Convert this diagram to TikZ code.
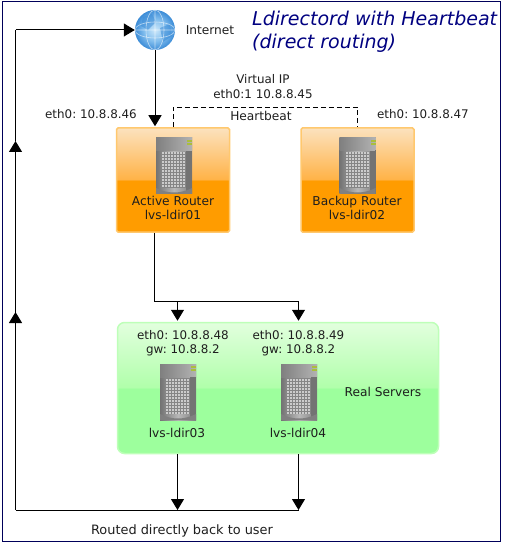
\documentclass[tikz,border=0pt]{standalone}
\usepackage{fontspec}
\setmainfont{DejaVu Sans}
\usepackage{xcolor}
\usetikzlibrary{arrows.meta,positioning}
\definecolor{framenavy}{RGB}{0,0,90}
\definecolor{titlenavy}{RGB}{0,0,128}
\definecolor{routerfill}{RGB}{255,156,0}
\definecolor{routermid}{RGB}{255,178,70}
\definecolor{routertop}{RGB}{252,226,190}
\definecolor{routeredge}{RGB}{255,200,110}
\definecolor{realfill}{RGB}{157,255,157}
\definecolor{realmid}{RGB}{176,255,170}
\definecolor{realtop}{RGB}{226,255,222}
\definecolor{realedge}{RGB}{190,255,185}
\definecolor{labelgray}{RGB}{30,30,30}
\definecolor{globelight}{RGB}{205,232,250}
\definecolor{globemid}{RGB}{130,190,238}
\definecolor{globedark}{RGB}{60,140,215}
\definecolor{srvled}{RGB}{170,190,60}
\pgfdeclareverticalshading{routershade}{100bp}{
  color(0bp)=(routerfill); color(50bp)=(routerfill);
  color(50.01bp)=(routermid); color(75bp)=(routertop); color(100bp)=(routertop)}
\pgfdeclareverticalshading{realshade}{100bp}{
  color(0bp)=(realfill); color(50bp)=(realfill);
  color(50.01bp)=(realmid); color(75bp)=(realtop); color(100bp)=(realtop)}
\pgfdeclareradialshading{globeshade}{\pgfpoint{0bp}{0bp}}{
  color(0bp)=(globelight); color(14bp)=(globemid);
  color(25bp)=(globedark); color(50bp)=(globedark)}
\tikzset{
  pics/srvicon/.style={code={
    \fill[left color=black!55, right color=black!50, middle color=black!28] (-18,-28) rectangle (18,28);
    \fill[left color=black!50, right color=black!30] (-18,-28) rectangle (18,-15);
    \fill[black!55] (12,-15) rectangle (18,28);
    \fill[black!50] (-18,22) .. controls (-6,28) and (6,28) .. (18,22) -- (18,28) -- (-18,28) -- cycle;
    \fill[srvled] (13,-26) rectangle (18,-24);
    \fill[srvled] (13,-23) rectangle (18,-21);
    \fill[black!48] (-12.5,-14) rectangle (11.5,22);
    \foreach \i in {0,...,7}
      \foreach \j in {0,...,11}
        \fill[black!20] (-12+\i*3,-13.5+\j*3) rectangle ++(2,2);
  }}
}
\begin{document}
\frenchspacing
\begin{tikzpicture}[
  x=1pt, y=-1pt,
  font=\fontsize{12.2}{14.5}\selectfont,
  txt/.style={align=center, inner sep=0pt, text=labelgray},
  iptxt/.style={txt, font=\fontsize{11.9}{14.5}\selectfont},
  router/.style={draw=routeredge, line width=1.5pt, rounded corners=1.5pt, shading=routershade, minimum width=113pt, minimum height=104pt, inner sep=0pt},
  realbox/.style={draw=realedge, line width=1.5pt, rounded corners=7pt, shading=realshade, minimum width=321pt, minimum height=131pt, inner sep=0pt},
  globe/.style={circle, shading=globeshade, minimum size=40pt, inner sep=0pt},
  arr/.style={-{Triangle[width=13pt,length=11pt]}, line width=1pt},
  wire/.style={line width=1pt},
  hbwire/.style={line width=0.8pt, dash pattern=on 5pt off 3pt}
]
\useasboundingbox (0,0) rectangle (509,545);
\node[draw=framenavy, line width=1pt, minimum width=498pt, minimum height=539pt, inner sep=0pt] (frame) at (251,271.5) {};
\node[anchor=west, align=left, inner sep=0pt, text=titlenavy, font=\fontsize{19}{23}\selectfont\itshape] (title) at (252,31.5) {Ldirectord with Heartbeat\\(direct routing)};

% routers
\node[router] (active) at (173,180) {};
\node[router] (backup) at (357.5,180) {};
\pic at (174,166) {srvicon};
\pic at (357.5,166) {srvicon};
\node[txt] (activetxt) at (173,208) {Active Router\\lvs-ldir01};
\node[txt] (backuptxt) at (357,208) {Backup Router\\lvs-ldir02};

% real servers
\node[realbox] (real) at (278,388) {};
\pic at (178,392) {srvicon};
\pic at (299,392) {srvicon};
\node[iptxt] (ipa) at (183,343) {eth0: 10.8.8.48\\gw: 10.8.8.2};
\node[iptxt] (ipb) at (298.5,343) {eth0: 10.8.8.49\\gw: 10.8.8.2};
\node[txt] (srva) at (177,433) {lvs-ldir03};
\node[txt] (srvb) at (298,433) {lvs-ldir04};
\node[txt] (realtxt) at (383,391.5) {Real Servers};

% internet
\node[globe] (inet) at (155,30) {};
\begin{scope}
  \clip (inet.center) circle (20);
  \fill[globedark, opacity=.55] (143,17) -- (152,14) -- (156,22) -- (148,30) -- (141,26) -- cycle;
  \fill[globedark, opacity=.55] (160,28) -- (170,24) -- (172,36) -- (163,42) -- cycle;
  \draw[white, opacity=.6, line width=.6pt] (inet.center) ellipse (9 and 20) (inet.center) ellipse (20 and 8) (135,30) -- (175,30) (155,10) -- (155,50);
\end{scope}
\node[txt] (inettxt) at (210,30) {Internet};
\node[iptxt] (vip) at (263,86.5) {Virtual IP\\eth0:1 10.8.8.45};
\node[txt] (hbtxt) at (261,116) {Heartbeat};
\node[iptxt] (ipactive) at (91,114) {eth0: 10.8.8.46};
\node[iptxt] (ipbackup) at (423,114) {eth0: 10.8.8.47};
\node[txt, font=\fontsize{12.9}{15}\selectfont] (routed) at (182,531) {Routed directly back to user};

% connectors
\coordinate (hbleft) at (173,107);
\coordinate (hbright) at (357.5,107);
\coordinate (split) at (154.5,301);
\coordinate (splita) at (177.5,301);
\coordinate (splitb) at (298.5,301);
\coordinate (backa) at (177.5,510);
\coordinate (backb) at (298.5,510);
\coordinate (corner) at (15.5,510);
\coordinate (upa) at (15.5,312);
\coordinate (upb) at (15.5,141);
\coordinate (top) at (15.5,30);
\draw[arr, shorten >=1pt] (inet.south) -- (inet.south |- active.north);
\draw[hbwire] (hbleft |- active.north) -- (hbleft) -- (hbright) -- (hbright |- backup.north);
\draw[wire] (split |- active.south) -- (split) -- (splitb);
\draw[arr, shorten >=1pt] (splita) -- (splita |- real.north);
\draw[arr, shorten >=1pt] (splitb) -- (splitb |- real.north);
\draw[arr] (splita |- real.south) -- (backa);
\draw[arr] (splitb |- real.south) -- (backb);
\draw[wire] (backb) -- (corner);
\draw[arr] (corner) -- (upa);
\draw[arr] (corner) -- (upb);
\draw[wire] (upb) -- (top);
\draw[arr] (top) -- (inet.west);
\end{tikzpicture}
\end{document}
